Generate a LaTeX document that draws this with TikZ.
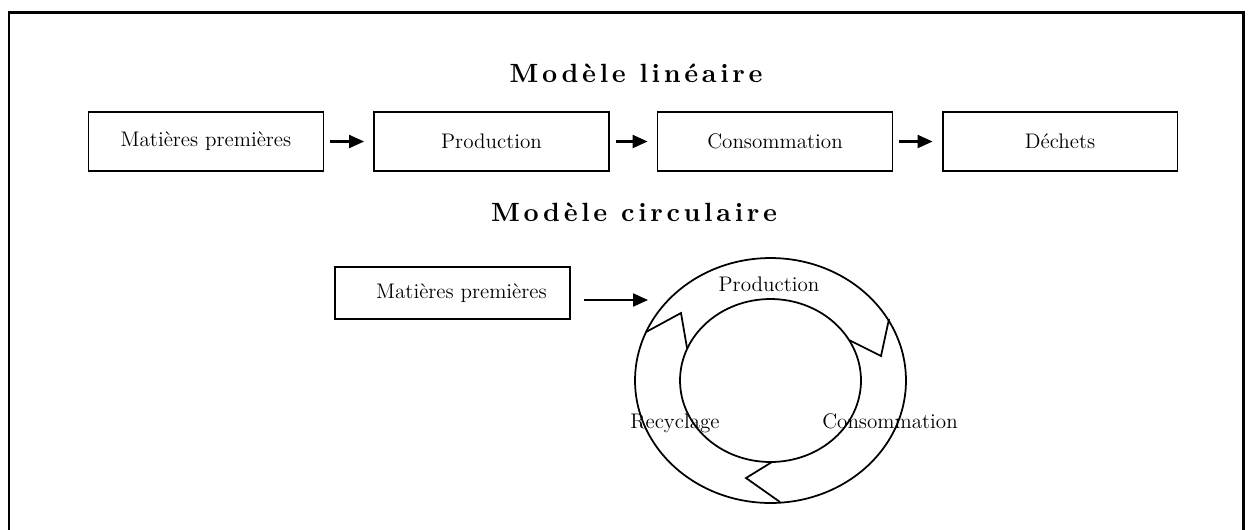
\documentclass[tikz,border=0pt]{standalone}
\usepackage{fontspec}
\usepackage{tikz}
\usetikzlibrary{arrows.meta}
\usetikzlibrary{calc}
\newfontfamily\titlefont[LetterSpace=14,BoldFont=lmroman10-bold.otf]{lmroman10-regular.otf}
\tikzstyle{blk}=[shape=rectangle,draw,line width=1.1pt,minimum width=4.7cm,minimum height=1.18cm,inner sep=0pt,font=\fontsize{12}{14}\selectfont]
\tikzstyle{ttl}=[anchor=base,inner sep=0pt,font=\titlefont\fontsize{15}{17}\selectfont\bfseries]
\tikzstyle{tran}=[draw,line width=1.3pt,-{Triangle[length=0.3cm,width=0.26cm]}]
\tikzstyle{lbl}=[anchor=base,inner sep=0pt,font=\fontsize{12}{14}\selectfont]
\tikzstyle{ringline}=[draw,line width=1pt]

\begin{document}
\begin{tikzpicture}[x=0.02cm,y=-0.02cm]
		\useasboundingbox (0,0) rectangle (1254,529);
		\draw[line width=1.7pt] (9,545) -- (9,12) -- (1243,12) -- (1243,545);
%		linear model
		\node[ttl] (lintitle) at (636,82) {Modèle linéaire};
		\node[blk] (mp) at (206,141.5) {Matières premières};
		\node[blk] (prod) at (491.5,141.5) {Production};
		\node[blk] (cons) at (775,141.5) {Consommation};
		\node[blk] (dech) at (1060,141.5) {Déchets};
		\draw[tran,shorten <=0.12cm,shorten >=0.18cm] (mp) -- (prod);
		\draw[tran,shorten <=0.12cm,shorten >=0.18cm] (prod) -- (cons);
		\draw[tran,shorten <=0.12cm,shorten >=0.18cm] (cons) -- (dech);
%		circular model
		\node[ttl] (circtitle) at (634,221) {Modèle circulaire};
		\node[blk,minimum height=1.04cm] (mp2) at (452.5,293) {\hspace*{0.36cm}Matières premières};
		\coordinate (entry) at (648,300);
		\draw[tran] ([shift={(13,7)}]mp2.east) -- (entry);
%		
		\coordinate (hub) at (770.5,380.5);
		\draw[ringline] (hub) ellipse [x radius=2.71cm, y radius=2.45cm];
		\draw[ringline] (hub) ellipse [x radius=1.81cm, y radius=1.63cm];
		\draw[ringline] (646,332) -- (681,313) -- (687,348);
		\draw[ringline] (889,319) -- (881,356) -- (849,340);
		\draw[ringline] (772,462) -- (746,478) -- (780,502);
		\node[lbl] (prodlbl) at (769,291) {Production};
		\node[lbl] (recyc) at (675,428) {Recyclage};
		\node[lbl] (conslbl) at (890,428) {Consommation};
\end{tikzpicture}
\end{document}
